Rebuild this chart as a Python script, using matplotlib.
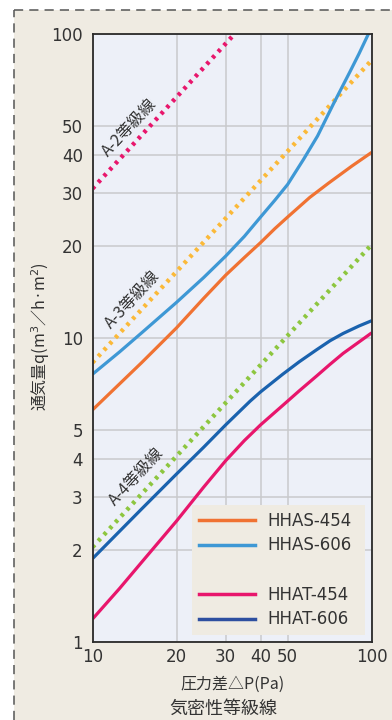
import matplotlib
matplotlib.use("Agg")
import matplotlib.pyplot as plt
from matplotlib.lines import Line2D
from matplotlib.patches import Rectangle

plt.rcParams['font.family'] = ['Noto Sans CJK JP', 'DejaVu Sans']

# ---- data ----
x_ticks = [10, 20, 30, 40, 50, 100]
y_ticks = [1, 2, 3, 4, 5, 10, 20, 30, 40, 50, 100]

has606_x = [10, 12.5, 15, 20, 25, 30, 35, 40, 45, 50, 57, 64, 73, 83.5, 90, 97.3, 100]
has606_y = [7.6, 9.0, 10.4, 13.1, 15.8, 18.6, 21.6, 25.0, 28.4, 32.0, 38.7, 46.2, 59, 75, 86, 100, 105]

has454_x = [10, 15, 20, 25, 30, 35, 40, 45, 50, 60, 70, 85, 100]
has454_y = [5.8, 8.3, 10.8, 13.5, 16.1, 18.4, 20.6, 22.9, 25.0, 29.0, 32.3, 36.8, 40.8]

hat606_x = [10, 15, 20, 25, 30, 36.7, 40, 48, 55, 63.5, 71, 79, 90, 100]
hat606_y = [1.88, 2.74, 3.57, 4.37, 5.18, 6.2, 6.65, 7.6, 8.35, 9.15, 9.8, 10.35, 10.95, 11.4]

hat454_x = [10, 12.5, 15, 20, 25, 30, 35, 40, 48, 55, 63.5, 71, 79, 90, 100]
hat454_y = [1.19, 1.5, 1.83, 2.5, 3.23, 3.95, 4.6, 5.18, 6.0, 6.7, 7.5, 8.2, 8.9, 9.7, 10.4]

grade_x = [10, 100]
a2_y = [31.0, 310.0]
a3_y = [8.3, 82.0]
a4_y = [2.05, 20.3]

grade_labels = ["A-2等級線", "A-3等級線", "A-4等級線"]
series_labels = ["HHAS-454", "HHAS-606", "HHAT-454", "HHAT-606"]

# ---- style ----
BEIGE = "#EFEBE2"
AXBG = "#EDF0F8"
C_ORANGE = "#F07232"
C_LBLUE = "#3E98D5"
C_PINK = "#E8166C"
C_DBLUE = "#1A62AE"
C_DBLUE_LEG = "#2D4FA0"
C_YELLOW = "#FBB938"
C_GREEN = "#8DC63F"
TXT = "#333333"
LATIN = ['DejaVu Sans']

fig = plt.figure(figsize=(3.92, 7.2), dpi=100, facecolor="white")

# beige panel with dashed border
bx = 14 / 392
by = 1 - 10 / 720
fig.add_artist(Rectangle((bx, 0), 1 - bx, by, transform=fig.transFigure,
                         facecolor=BEIGE, edgecolor="none", zorder=-10))
fig.add_artist(Line2D([bx, bx], [0, by], transform=fig.transFigure,
                      color="#555555", lw=1.1, dashes=(6, 4)))
fig.add_artist(Line2D([bx, 1], [by, by], transform=fig.transFigure,
                      color="#555555", lw=1.1, dashes=(6, 4)))

L, R, T, B = 92.5, 371.7, 34, 642
ax = fig.add_axes([L / 392, 1 - B / 720, (R - L) / 392, (B - T) / 720])
ax.set_facecolor(AXBG)
ax.set_xscale("log")
ax.set_yscale("log")
ax.set_xlim(10, 100)
ax.set_ylim(1, 100)

ax.set_xticks(x_ticks)
ax.set_xticklabels([str(v) for v in x_ticks], family=LATIN)
ax.set_yticks(y_ticks)
ax.set_yticklabels([str(v) for v in y_ticks], family=LATIN)
ax.minorticks_off()
ax.tick_params(length=0, labelsize=12, colors=TXT)
ax.tick_params(axis="y", pad=7)
ax.tick_params(axis="x", pad=4)
ax.grid(True, color="#C9C9CC", lw=1.1)
ax.set_axisbelow(True)
for s in ax.spines.values():
    s.set_color("#2A2A2A")
    s.set_linewidth(1.3)

# grade lines (dotted)
dot = dict(lw=3.2, dashes=(0.75, 1.15), dash_capstyle="butt")
ax.plot(grade_x, a2_y, color=C_PINK, **dot)
ax.plot(grade_x, a3_y, color=C_YELLOW, **dot)
ax.plot(grade_x, a4_y, color=C_GREEN, **dot)

# product curves
cur = dict(lw=2.3, solid_capstyle="butt", solid_joinstyle="round")
ax.plot(has454_x, has454_y, color=C_ORANGE, **cur)
ax.plot(has606_x, has606_y, color=C_LBLUE, **cur)
ax.plot(hat454_x, hat454_y, color=C_PINK, **cur)
ax.plot(hat606_x, hat606_y, color=C_DBLUE, **cur)

def pix2ax(px, py):
    return ((px - L) / (R - L), (B - py) / (B - T))

for lab, (px, py) in zip(grade_labels, [(130, 128), (132.5, 300), (137, 477)]):
    ax.text(*pix2ax(px, py), lab, transform=ax.transAxes, rotation=47,
            rotation_mode="anchor", ha="center", va="center",
            fontsize=11.5, color=TXT)

# legend
handles = [Line2D([], [], color=C_ORANGE, lw=2.5),
           Line2D([], [], color=C_LBLUE, lw=2.5),
           Line2D([], [], color="none", lw=0),
           Line2D([], [], color=C_PINK, lw=2.5),
           Line2D([], [], color=C_DBLUE_LEG, lw=2.5)]
labels = [series_labels[0], series_labels[1], "", series_labels[2], series_labels[3]]
x0, y0 = pix2ax(192, 635)
x1, y1 = pix2ax(365, 502)
leg = ax.legend(handles, labels, loc="lower left",
                bbox_to_anchor=(x0, y0, x1 - x0, y1 - y0), mode="expand",
                prop={'family': LATIN, 'size': 12}, frameon=True, fancybox=False,
                facecolor=BEIGE, edgecolor="none", framealpha=1,
                handlelength=3.4, handletextpad=0.7, labelspacing=0.4,
                borderpad=0.4, borderaxespad=0)
for t in leg.get_texts():
    t.set_color(TXT)

ax.set_xlabel("圧力差△P(Pa)", fontsize=11.5, color=TXT)
ax.set_ylabel("通気量q(m$^3$／h·m$^2$)", fontsize=11.5, color=TXT)
ax.xaxis.set_label_coords(0.5, (B - 684) / (B - T))
ax.yaxis.set_label_coords((41 - L) / (R - L), (B - 337) / (B - T))
ax.xaxis.label.set_va("center")
ax.yaxis.label.set_va("center")

fig.text(223 / 392, 1 - 709 / 720, "気密性等級線", ha="center", va="center",
         fontsize=13, color=TXT)

fig.savefig("out.png", dpi=100, facecolor=fig.get_facecolor())
